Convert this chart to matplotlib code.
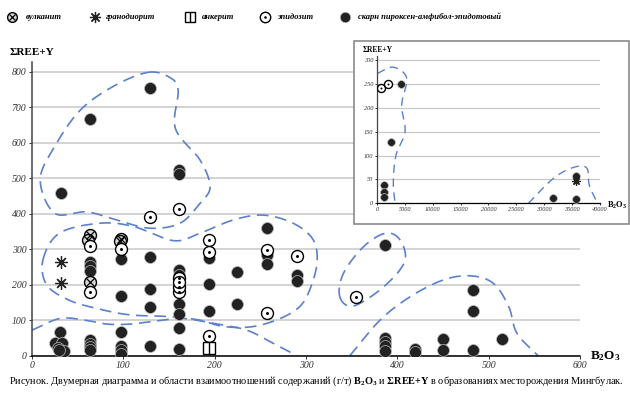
import numpy as np
import matplotlib.pyplot as plt
from matplotlib.patches import Rectangle

plt.rcParams['font.family'] = ['Liberation Serif', 'DejaVu Serif']
plt.rcParams['mathtext.fontset'] = 'custom'
plt.rcParams['mathtext.rm'] = 'Liberation Serif'
plt.rcParams['mathtext.bf'] = 'Liberation Serif:bold'
plt.rcParams['mathtext.it'] = 'Liberation Serif:italic'

# main chart: B2O3 (g/t) vs sum REE+Y
skarn_x = [32, 31, 25, 33, 28, 35, 30,
           64, 63, 63, 63, 64, 64, 64, 64,
           97, 97, 97, 97, 97, 97,
           129, 129, 129, 129, 129,
           161, 161, 161, 161, 161, 161, 161, 161,
           194, 194, 194, 224, 224, 257, 257, 257, 290, 290,
           387, 387, 387, 387, 387, 419, 419, 450, 450,
           483, 483, 483, 515]
skarn_y = [457, 66, 36, 36, 22, 12, 16,
           667, 265, 252, 238, 43, 34, 25, 15,
           272, 167, 67, 26, 16, 6,
           753, 278, 187, 137, 26,
           523, 512, 240, 226, 147, 117, 77, 18,
           276, 201, 125, 235, 145, 359, 285, 259, 228, 210,
           312, 51, 39, 28, 14, 20, 11, 48, 15,
           185, 127, 15, 47]

epid_x = [129, 161, 63, 63, 97, 161, 161, 161, 161, 194, 194, 194, 257, 257, 290, 355]
epid_y = [390, 413, 309, 180, 300, 218, 180, 193, 208, 326, 292, 55, 299, 121, 282, 164]

volc_x = [63, 61, 63, 97, 96]
volc_y = [340, 326, 208, 330, 322]

gran_x = [32, 32]
gran_y = [265, 206]

ank_x = [194]
ank_y = [23]

# inset: full range of B2O3
in_skarn_x = [4270, 2400, 1270, 1270, 1270, 31690, 35700, 35700]
in_skarn_y = [250, 129, 38, 23, 13, 12, 58, 8]
in_epid_x = [600, 1990]
in_epid_y = [242, 249]
in_gran_x = [35700]
in_gran_y = [46]

# outlined fields (dashed)
field1 = [(127, 798), (150, 785), (160, 748), (157, 640), (184, 551), (195, 476),
          (184, 429), (162, 373), (129, 359), (93, 382), (60, 405), (25, 401),
          (9, 495), (25, 590), (53, 692), (90, 760)]
field2 = [(12, 270), (30, 345), (74, 373), (111, 364), (155, 324), (184, 345),
          (220, 382), (253, 396), (286, 373), (308, 326), (312, 260), (304, 185),
          (293, 138), (272, 105), (242, 82), (210, 82), (184, 100), (151, 110),
          (107, 115), (71, 133), (40, 157), (16, 200)]
field3 = [(0, 72), (31, 105), (60, 99), (82, 89), (107, 89), (140, 99), (165, 105),
          (199, 91), (235, 72), (264, 35), (290, 0)]
field4 = [(337, 166), (352, 140), (385, 194), (408, 265), (403, 326), (387, 345),
          (363, 307), (341, 232)]
field5 = [(348, 0), (381, 100), (414, 166), (450, 213), (480, 225), (505, 204),
          (522, 138), (531, 63), (554, 0)]
in_field1 = [(0, 272), (2880, 285), (5290, 262), (4390, 206), (4990, 150),
             (3370, 101), (2880, 45), (3190, 0)]
in_field2 = [(27190, 0), (31690, 52), (35290, 75), (37690, 74), (38170, 38), (39500, 3)]

legend_names = ['вулканит', 'гранодиорит', 'анкерит', 'эпидозит',
                'скарн пироксен-амфибол-эпидотовый']

BLUE = '#5b80cc'
DARK = '#222222'


def smooth(ax, pts, closed=False, n=24):
    p = ax.transData.transform(np.array(pts, dtype=float))
    if closed:
        p = np.vstack([p[-1], p, p[0], p[1]])
    else:
        p = np.vstack([2 * p[0] - p[1], p, 2 * p[-1] - p[-2]])
    out = []
    t = np.linspace(0, 1, n, endpoint=False)[:, None]
    for i in range(1, len(p) - 2):
        p0, p1, p2, p3 = p[i - 1], p[i], p[i + 1], p[i + 2]
        seg = 0.5 * (2 * p1 + (-p0 + p2) * t + (2 * p0 - 5 * p1 + 4 * p2 - p3) * t ** 2
                     + (-p0 + 3 * p1 - 3 * p2 + p3) * t ** 3)
        out.append(seg)
    out.append(p[-2][None])
    return ax.transData.inverted().transform(np.vstack(out))


def draw_field(ax, pts, closed, lw=1.2, dash=(7, 4)):
    c = smooth(ax, pts, closed)
    ax.plot(c[:, 0], c[:, 1], color=BLUE, lw=lw, dashes=dash, zorder=2)


def skarn(ax, x, y, ms):
    ax.plot(x, y, 'o', ms=ms, mfc=DARK, mec='#bbbbbb', mew=0.5, ls='none', zorder=3)


def epid(ax, x, y, ms):
    ax.plot(x, y, 'o', ms=ms, mfc='white', mec='black', mew=1.0, ls='none', zorder=4)
    ax.plot(x, y, 'o', ms=ms * 0.25, mfc='black', mec='black', mew=0, ls='none', zorder=4)


def volc(ax, x, y, ms):
    ax.plot(x, y, 'o', ms=ms, mfc='#d6d6d6', mec='black', mew=1.0, ls='none', zorder=4)
    ax.plot(x, y, 'x', ms=ms * 0.7, mec='black', mew=0.9, ls='none', zorder=4)


def gran(ax, x, y, ms):
    ax.plot(x, y, marker=(8, 2, 0), ms=ms, mec='#222222', mew=0.9, ls='none', zorder=4)


def ank(ax, x, y, ms):
    ax.plot(x, y, 's', ms=ms, mfc='white', mec='black', mew=1.0, ls='none', zorder=4)
    ax.plot(x, y, '|', ms=ms, mec='black', mew=1.0, ls='none', zorder=4)


def style_axes(ax, fs):
    ax.grid(axis='y', color='#c8c8c8', lw=1.1)
    ax.set_axisbelow(True)
    for s in ['top', 'right']:
        ax.spines[s].set_visible(False)
    ax.spines['left'].set_color('#444444')
    ax.spines['bottom'].set_color('black')
    ax.spines['left'].set_linewidth(1.1)
    ax.spines['bottom'].set_linewidth(1.1)
    ax.tick_params(length=2.5, width=0.7, labelsize=fs, colors='#333333', pad=1.5)
    for lab in ax.get_xticklabels() + ax.get_yticklabels():
        lab.set_fontstyle('italic')


fig = plt.figure(figsize=(6.3, 3.94), dpi=100)

ax = fig.add_axes([32 / 630, 38.3 / 394, 548 / 630, 294 / 394])
ax.set_xlim(0, 600)
ax.set_ylim(0, 828)
ax.set_xticks(range(0, 601, 100))
ax.set_yticks(range(0, 801, 100))
style_axes(ax, 7)

for f, cl in [(field1, True), (field2, True), (field3, False), (field4, True), (field5, False)]:
    draw_field(ax, f, cl)

skarn(ax, skarn_x, skarn_y, 8.6)
volc(ax, volc_x, volc_y, 8.6)
epid(ax, epid_x, epid_y, 8.6)
gran(ax, gran_x, gran_y, 9)
ank(ax, ank_x, ank_y, 8.6)

# overlay in pixel coordinates for frame, legend and captions
ov = fig.add_axes([0, 0, 1, 1], zorder=1)
ov.set_xlim(0, 630)
ov.set_ylim(394, 0)
ov.axis('off')
ov.patch.set_alpha(0)
ov.add_patch(Rectangle((353.5, 40.5), 275, 183, facecolor='white', edgecolor='#8a8a8a', lw=1.2))

ax2 = fig.add_axes([377.3 / 630, 190.7 / 394, 222.2 / 630, 147.6 / 394], zorder=2)
ax2.patch.set_alpha(0)
ax2.set_xlim(0, 40000)
ax2.set_ylim(0, 309)
ax2.set_xticks(range(0, 40001, 5000))
ax2.set_yticks(range(0, 301, 50))
style_axes(ax2, 4.5)
ax2.tick_params(length=1.5)
ax2.spines['left'].set_linewidth(0.9)
ax2.spines['bottom'].set_linewidth(0.9)
ax2.grid(axis='y', color='#c8c8c8', lw=0.9)

draw_field(ax2, in_field1, False, lw=1.0, dash=(6, 4))
draw_field(ax2, in_field2, False, lw=1.0, dash=(6, 4))
skarn(ax2, in_skarn_x, in_skarn_y, 5.6)
epid(ax2, in_epid_x, in_epid_y, 5.8)
gran(ax2, in_gran_x, in_gran_y, 6)

# axis titles
ov.text(10, 52, 'ΣREE+Y', fontsize=8, fontweight='bold', va='center', ha='left')
ov.text(590, 356, r'$\mathbf{B_2O_3}$', fontsize=9.5, va='center', ha='left')
ov.text(363, 50, 'ΣREE+Y', fontsize=5.5, fontweight='bold', va='center', ha='left')
ov.text(607, 205, r'$\mathbf{B_2O_3}$', fontsize=6, va='center', ha='left')

# legend row
ly = 17
lax = [12, 95, 190, 265, 345]
tx = [26, 106, 202, 277, 358]
volc(ov, [lax[0]], [ly], 7)
gran(ov, [lax[1]], [ly], 8)
ank(ov, [lax[2]], [ly], 7.5)
epid(ov, [lax[3]], [ly], 7.5)
skarn(ov, [lax[4]], [ly], 7.5)
for x, name in zip(tx, legend_names):
    ov.text(x, ly, name, fontsize=6.1, fontstyle='italic', fontweight='bold',
            va='center', ha='left')

caption = (r'Рисунок. Двумерная диаграмма и области взаимоотношений содержаний (г/т) '
           r'$\mathbf{B_2O_3}$ и $\mathbf{ΣREE{+}Y}$ в образованиях месторождения Мингбулак.')
ov.text(316, 381, caption, fontsize=7.35, ha='center', va='center')

fig.savefig('out.png', dpi=100)
